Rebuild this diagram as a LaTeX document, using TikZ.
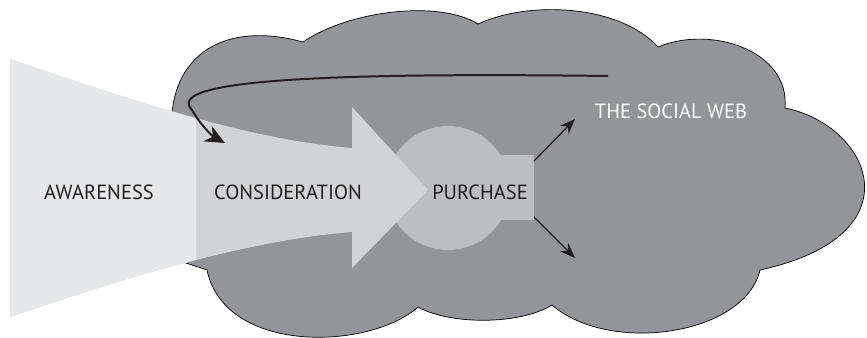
\documentclass[tikz,border=0pt]{standalone}
\usepackage{fontspec}
\setsansfont{PT Sans}
\usetikzlibrary{arrows.meta}
\definecolor{cloudgray}{HTML}{939598}
\definecolor{awaregray}{HTML}{E6E7E8}
\definecolor{considergray}{HTML}{D1D3D4}
\definecolor{buygray}{HTML}{BCBEC0}
\definecolor{inkdark}{HTML}{231F20}

\begin{document}
\begin{tikzpicture}[x=0.03cm, y=-0.03cm, >=Stealth,
    stagetext/.style={font=\sffamily\fontsize{17.5}{20}\selectfont, text=inkdark, inner sep=0pt},
    flow/.style={draw=inkdark, line width=1.1pt, -{Stealth[length=13pt, width=10pt]}}]
    \useasboundingbox (0,0) rectangle (867,338);

    % the cloud
    \filldraw[fill=cloudgray, draw=black, line width=0.6pt]
        (172,113) .. controls (178,50) and (230,22) .. (303,42)
        .. controls (350,10) and (440,0) .. (478,24)
        .. controls (530,0) and (620,5) .. (658,47)
        .. controls (710,25) and (790,50) .. (785,108)
        .. controls (870,125) and (920,235) .. (760,270)
        .. controls (745,335) and (610,355) .. (552,305)
        .. controls (520,325) and (450,325) .. (418,307)
        .. controls (370,350) and (225,355) .. (207,270)
        -- (177,260) -- (205,190) -- cycle;

    % purchase
    \fill[buygray] (448,188) circle[radius=62];
    \fill[buygray] (470,155) rectangle (534,220);

    % funnel and arrow
    \fill[considergray] (10,59) .. controls (130,100) and (250,140) .. (352,148)
        -- (352,107) -- (428,190) -- (352,268) -- (352,232)
        .. controls (250,240) and (130,276) .. (10,317) -- cycle;
    \begin{scope}
        \clip (0,0) rectangle (196,338);
        \fill[awaregray] (10,59) .. controls (130,100) and (250,140) .. (352,148)
            -- (352,232) .. controls (250,240) and (130,276) .. (10,317) -- cycle;
    \end{scope}

    \node[stagetext] (awareness) at (99,192) {AWARENESS};
    \node[stagetext] (consideration) at (288,192) {CONSIDERATION};
    \node[stagetext] (purchase) at (480,192) {PURCHASE};
    \node[stagetext, text=white] (socialweb) at (671,111) {THE SOCIAL WEB};

    \coordinate (loopstart) at (608,76);
    \coordinate (loopend) at (225,143);
    \coordinate (buyup) at (534,161);
    \coordinate (buydown) at (534,217);
    \coordinate (webup) at (575,119);
    \coordinate (webdown) at (575,258);

    % back into consideration
    \draw[draw=inkdark, line width=1.7pt, -{Stealth[length=17pt, width=15pt]}]
        (loopstart) .. controls (300,72) and (165,82) .. (192,110)
        .. controls (200,124) and (212,136) .. (loopend);

    \draw[flow] (buyup) -- (webup);
    \draw[flow] (buydown) -- (webdown);
\end{tikzpicture}
\end{document}
